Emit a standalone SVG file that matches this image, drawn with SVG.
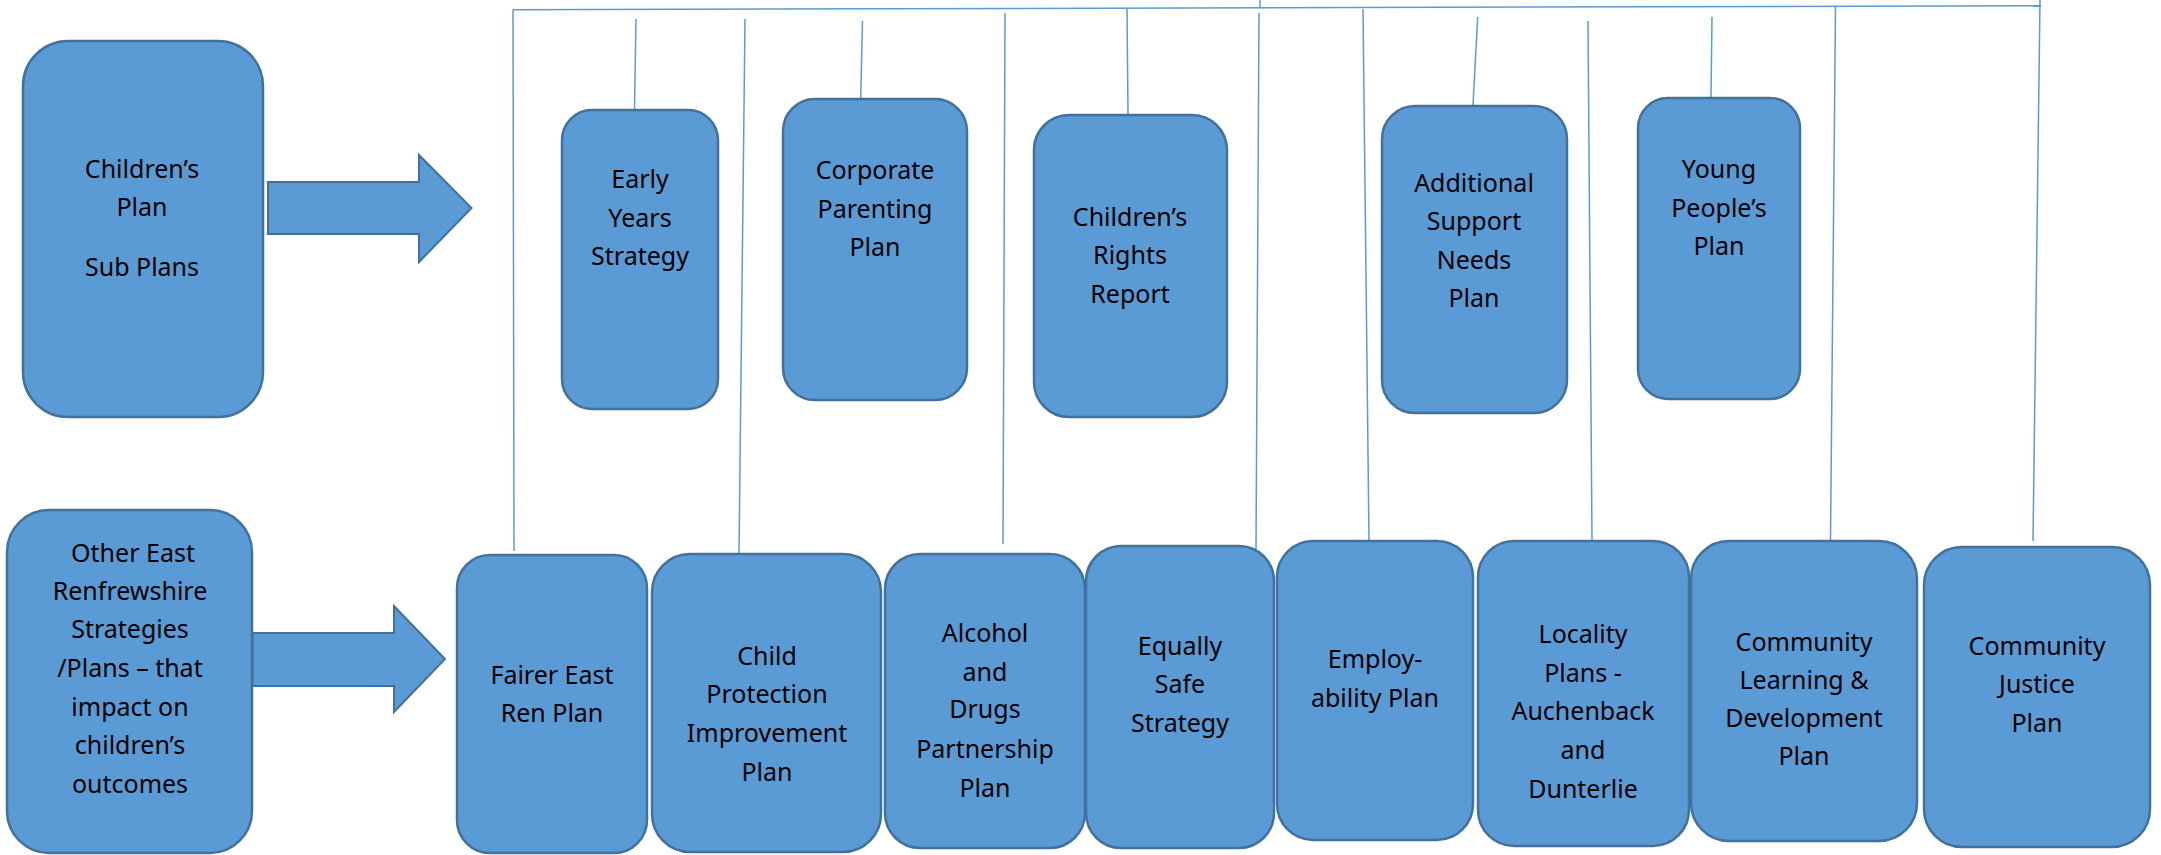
<svg xmlns="http://www.w3.org/2000/svg" width="2161" height="855" viewBox="0 0 2161 855">
<style>
.box{fill:#5B9BD5;stroke:#41719C;stroke-width:2.5}
.arrow{fill:#5B9BD5;stroke:#41719C;stroke-width:2}
.conn{stroke:#5B9BD5;stroke-width:1.5;fill:none}
text{font-family:"Noto Sans","Liberation Sans",sans-serif;font-size:25px;fill:#000;text-anchor:middle}
</style>
<rect width="2161" height="855" fill="#fff"/>
<g id="connectors">
<line class="conn" x1="513" y1="9.7" x2="2041" y2="5.7"/>
<line class="conn" x1="1260" y1="0" x2="1260" y2="7.7"/>
<line class="conn" x1="2040" y1="0" x2="2033" y2="541"/>
<line class="conn" x1="513" y1="9.7" x2="514" y2="551"/>
<line class="conn" x1="745" y1="19" x2="739" y2="554"/>
<line class="conn" x1="1005" y1="13" x2="1003" y2="544"/>
<line class="conn" x1="1259" y1="13" x2="1256" y2="549"/>
<line class="conn" x1="1363" y1="9" x2="1369" y2="541"/>
<line class="conn" x1="1588" y1="21" x2="1592" y2="540"/>
<line class="conn" x1="1835.5" y1="6.7" x2="1830.5" y2="540"/>
<line class="conn" x1="636" y1="19" x2="634.5" y2="110"/>
<line class="conn" x1="862.5" y1="21" x2="860.7" y2="98"/>
<line class="conn" x1="1127" y1="9" x2="1128" y2="114"/>
<line class="conn" x1="1477.7" y1="16.7" x2="1473" y2="105"/>
<line class="conn" x1="1712" y1="16.7" x2="1711" y2="97"/>
</g>
<g id="arrow1"><polygon class="arrow" points="268,182 419,182 419,155 471.5,208 419,262 419,234 268,234"/></g>
<g id="arrow2"><polygon class="arrow" points="252.5,633 394,633 394,606 445,659 394,712 394,686 252.5,686"/></g>
<g id="childrens-plan">
<rect class="box" x="23" y="41" width="240" height="376" rx="45"/>
<text x="142" y="178">Children’s</text>
<text x="142" y="216">Plan</text>
<text x="142" y="276">Sub Plans</text>
</g>
<g id="other-strategies">
<rect class="box" x="7" y="510" width="245" height="343" rx="42"/>
<text x="133" y="562">Other East</text>
<text x="130" y="600">Renfrewshire</text>
<text x="130" y="638">Strategies</text>
<text x="130" y="677">/Plans – that</text>
<text x="130" y="716">impact on</text>
<text x="130" y="754">children’s</text>
<text x="130" y="793">outcomes</text>
</g>
<g id="early-years">
<rect class="box" x="562" y="110" width="156" height="299" rx="30"/>
<text x="640" y="188">Early</text>
<text x="640" y="227">Years</text>
<text x="640" y="265">Strategy</text>
</g>
<g id="corporate-parenting">
<rect class="box" x="783" y="99" width="184" height="301" rx="32"/>
<text x="875" y="179">Corporate</text>
<text x="875" y="218">Parenting</text>
<text x="875" y="256">Plan</text>
</g>
<g id="childrens-rights">
<rect class="box" x="1034" y="115" width="193" height="302" rx="35"/>
<text x="1130" y="226">Children’s</text>
<text x="1130" y="264">Rights</text>
<text x="1130" y="303">Report</text>
</g>
<g id="asn-plan">
<rect class="box" x="1382" y="106" width="185" height="307" rx="33"/>
<text x="1474" y="192">Additional</text>
<text x="1474" y="230">Support</text>
<text x="1474" y="269">Needs</text>
<text x="1474" y="307">Plan</text>
</g>
<g id="young-peoples-plan">
<rect class="box" x="1638" y="98" width="162" height="301" rx="30"/>
<text x="1719" y="178">Young</text>
<text x="1719" y="217">People’s</text>
<text x="1719" y="255">Plan</text>
</g>
<g id="fairer-east-ren">
<rect class="box" x="457" y="555" width="190" height="298" rx="33"/>
<text x="552" y="684">Fairer East</text>
<text x="552" y="722">Ren Plan</text>
</g>
<g id="child-protection">
<rect class="box" x="652" y="554" width="229" height="298" rx="38"/>
<text x="767" y="665">Child</text>
<text x="767" y="703">Protection</text>
<text x="767" y="742">Improvement</text>
<text x="767" y="781">Plan</text>
</g>
<g id="alcohol-drugs">
<rect class="box" x="885" y="554" width="200" height="294" rx="35"/>
<text x="985" y="642">Alcohol</text>
<text x="985" y="681">and</text>
<text x="985" y="718">Drugs</text>
<text x="985" y="758">Partnership</text>
<text x="985" y="797">Plan</text>
</g>
<g id="equally-safe">
<rect class="box" x="1086" y="546" width="188" height="302" rx="35"/>
<text x="1180" y="655">Equally</text>
<text x="1180" y="693">Safe</text>
<text x="1180" y="732">Strategy</text>
</g>
<g id="employability">
<rect class="box" x="1277" y="541" width="196" height="299" rx="36"/>
<text x="1375" y="668">Employ-</text>
<text x="1375" y="707">ability Plan</text>
</g>
<g id="locality-plans">
<rect class="box" x="1478" y="541" width="211" height="305" rx="36"/>
<text x="1583" y="643">Locality</text>
<text x="1583" y="682">Plans -</text>
<text x="1583" y="720">Auchenback</text>
<text x="1583" y="759">and</text>
<text x="1583" y="798">Dunterlie</text>
</g>
<g id="cld-plan">
<rect class="box" x="1691" y="541" width="226" height="300" rx="38"/>
<text x="1804" y="651">Community</text>
<text x="1804" y="689">Learning &amp;</text>
<text x="1804" y="727">Development</text>
<text x="1804" y="765">Plan</text>
</g>
<g id="community-justice">
<rect class="box" x="1924" y="547" width="226" height="300" rx="38"/>
<text x="2037" y="655">Community</text>
<text x="2037" y="693">Justice</text>
<text x="2037" y="732">Plan</text>
</g>
</svg>
